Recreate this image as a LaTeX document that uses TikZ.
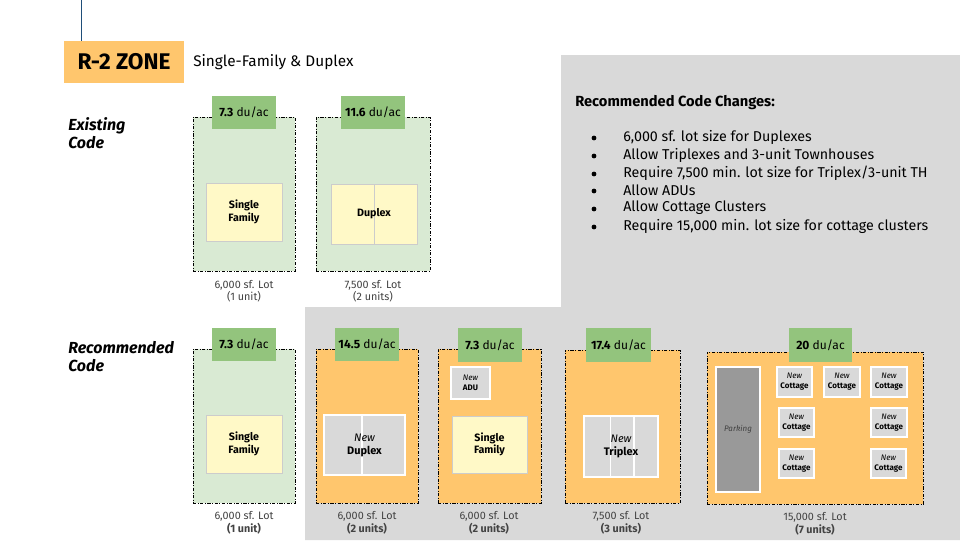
\documentclass[tikz,border=0pt]{standalone}
\usepackage{fontspec}
\setmainfont{Fira Sans}
\usetikzlibrary{calc}
\definecolor{bggray}{HTML}{D9D9D9}
\definecolor{zoneor}{HTML}{FFC66D}
\definecolor{lotor}{HTML}{FFC66D}
\definecolor{lgreen}{HTML}{D9EAD3}
\definecolor{dgreen}{HTML}{93C47D}
\definecolor{lyellow}{HTML}{FFF9C7}
\definecolor{bldgray}{HTML}{D9D9D9}
\definecolor{parkgray}{HTML}{999999}
\definecolor{capgray}{HTML}{434343}
\definecolor{lineblue}{HTML}{1F4E79}
\newcommand{\fs}[2]{\fontsize{#1}{#2}\selectfont}
\begin{document}
\begin{tikzpicture}[x=0.75pt,y=-0.75pt,
  sz/.style 2 args={minimum width=#1*0.75pt, minimum height=#2*0.75pt, inner sep=0pt, outer sep=0pt, anchor=north west},
  lotline/.style={draw=black, line width=0.6pt, dash pattern=on 2.4pt off 1.2pt on 0.6pt off 1.2pt},
  lotG/.style={lotline, fill=lgreen},
  lotO/.style={lotline, fill=lotor},
  dens/.style={fill=dgreen, font=\fs{9}{11}, text=black},
  sfam/.style={fill=lyellow, draw=black!20, line width=0.6pt, font=\bfseries\fs{8}{9.3}, align=center},
  newb/.style={fill=bldgray, draw=white, line width=1pt, align=center},
  cott/.style={newb, font=\fs{6}{7.4}},
  lotcap/.style={font=\fs{8.1}{9.4}, text=capgray, align=center},
  side/.style={font=\bfseries\itshape\fs{12}{13.6}, align=left, anchor=north west, inner sep=0pt},
  bl/.style={font=\fs{10.7}{12}, anchor=west, inner sep=0pt},
  bulc/.style={circle, fill=black, inner sep=0pt, minimum size=3.6pt},
]
\useasboundingbox (0,0) rectangle (960,540);
\fill[white] (0,0) rectangle (960,540);
% gray background
\fill[bggray] (561,55) -- (960,55) -- (960,540) -- (305,540) -- (305,307) -- (561,307) -- cycle;
% title
\node[sz={120}{42}, fill=zoneor, font=\bfseries\fs{17}{18}] (zone) at (64,41) {R-2 ZONE};
\coordinate (ltop) at (81,0);
\coordinate (lbot) at (81,41);
\draw[lineblue, line width=0.7pt] (ltop) -- (lbot);
\node[anchor=west, inner sep=0pt, font=\fs{11.5}{12}] (subt) at (193,62) {Single-Family \& Duplex};
% side labels
\node[side] (exist) at (68,117) {Existing\\Code};
\node[side] (recom) at (68,341) {Recommended\\Code};

% ===== Existing row =====
\node[sz={102}{154}, lotG] (e1) at (193,117) {};
\node[sz={64}{33}, dens] (e1d) at (212,96) {\textbf{7.3} du/ac};
\node[sz={76}{58}, sfam] (e1b) at (206,183) {Single\\Family};
\node[lotcap] (e1c) at (244,291) {6,000 sf. Lot\\(1 unit)};

\node[sz={114}{154}, lotG] (e2) at (316,117) {};
\node[sz={64}{33}, dens] (e2d) at (341,96) {\textbf{11.6} du/ac};
\node[sz={86}{60}, sfam] (e2b) at (331,184) {};
\draw[black!20, line width=0.6pt] ($(e2b.north west)!0.5!(e2b.north east)$) coordinate (e2t) -- ($(e2b.south west)!0.5!(e2b.south east)$) coordinate (e2s);
\node[sfam, fill=none, draw=none] (e2txt) at (e2b.center) {Duplex};
\node[lotcap] (e2c) at (373,291) {7,500 sf. Lot\\(2 units)};

% ===== Recommended row =====
\node[sz={102}{154}, lotG] (r1) at (193,349) {};
\node[sz={64}{33}, dens] (r1d) at (212,328) {\textbf{7.3} du/ac};
\node[sz={76}{58}, sfam] (r1b) at (206,415) {Single\\Family};
\node[lotcap] (r1c) at (244,523) {6,000 sf. Lot\\\textbf{(1 unit)}};

\node[sz={102}{154}, lotO] (r2) at (316,349) {};
\node[sz={64}{33}, dens] (r2d) at (335,328) {\textbf{14.5} du/ac};
\node[sz={81}{60}, newb] (r2b) at (324,415) {};
\draw[white, line width=1pt] ($(r2b.north west)!0.47!(r2b.north east)$) coordinate (r2t) -- ($(r2b.south west)!0.47!(r2b.south east)$) coordinate (r2s);
\node[align=center, font=\fs{8.2}{9.8}, inner sep=0pt] (r2txt) at (r2b.center) {\itshape New\\\bfseries Duplex};
\node[lotcap] (r2c) at (367,523) {6,000 sf. Lot\\\textbf{(2 units)}};

\node[sz={103}{154}, lotO] (r3) at (438,349) {};
\node[sz={64}{34}, dens] (r3d) at (458,328) {\textbf{7.3} du/ac};
\node[sz={39}{32}, newb, font=\fs{6}{7.4}] (r3a) at (451,367) {\itshape New\\\bfseries ADU};
\node[sz={75}{57}, sfam] (r3b) at (452,416) {Single\\Family};
\node[lotcap] (r3c) at (489,523) {6,000 sf. Lot\\\textbf{(2 units)}};

\node[sz={115}{153}, lotO] (r4) at (565,350) {};
\node[sz={65}{34}, dens] (r4d) at (586,328) {\textbf{17.4} du/ac};
\node[sz={74}{61}, newb] (r4b) at (584,416) {};
\draw[white, line width=1pt] ($(r4b.north west)!0.355!(r4b.north east)$) coordinate (r4t1) -- ($(r4b.south west)!0.355!(r4b.south east)$) coordinate (r4s1);
\draw[white, line width=1pt] ($(r4b.north west)!0.675!(r4b.north east)$) coordinate (r4t2) -- ($(r4b.south west)!0.675!(r4b.south east)$) coordinate (r4s2);
\node[align=center, font=\fs{8.2}{9.8}, inner sep=0pt] (r4txt) at (r4b.center) {\itshape New\\\bfseries Triplex};
\node[lotcap] (r4c) at (621,523) {7,500 sf. Lot\\\textbf{(3 units)}};

\node[sz={216}{152}, lotO] (r5) at (707,352) {};
\node[sz={63}{34}, dens] (r5d) at (789,328) {\textbf{20} du/ac};
\node[sz={44}{125}, fill=parkgray, draw=white, line width=1pt, font=\itshape\fs{6}{7}, text=black!75] (park) at (716,367) {Parking};
\node[sz={35}{30}, cott] (c1) at (777,367) {\itshape New\\\bfseries Cottage};
\node[sz={36}{30}, cott] (c2) at (824,367) {\itshape New\\\bfseries Cottage};
\node[sz={36}{30}, cott] (c3) at (871,367) {\itshape New\\\bfseries Cottage};
\node[sz={35}{29}, cott] (c4) at (779,408) {\itshape New\\\bfseries Cottage};
\node[sz={36}{29}, cott] (c5) at (871,408) {\itshape New\\\bfseries Cottage};
\node[sz={35}{29}, cott] (c6) at (779,449) {\itshape New\\\bfseries Cottage};
\node[sz={35}{29}, cott] (c7) at (871,449) {\itshape New\\\bfseries Cottage};
\node[lotcap] (r5c) at (815,524) {15,000 sf. Lot\\\textbf{(7 units)}};

% ===== Recommended changes =====
\node[anchor=west, inner sep=0pt, font=\bfseries\fs{11}{12}] (rtitle) at (575,103) {Recommended Code Changes:};
\node[bulc] (b1) at (594,138) {};
\node[bl] (t1) at (623,137) {6,000 sf. lot size for Duplexes};
\node[bulc] (b2) at (594,156) {};
\node[bl] (t2) at (623,155) {Allow Triplexes and 3-unit Townhouses};
\node[bulc] (b3) at (594,174) {};
\node[bl] (t3) at (623,173) {Require 7,500 min. lot size for Triplex/3-unit TH};
\node[bulc] (b4) at (594,191) {};
\node[bl] (t4) at (623,190) {Allow ADUs};
\node[bulc] (b5) at (594,209) {};
\node[bl] (t5) at (623,208) {Allow Cottage Clusters};
\node[bulc] (b6) at (594,227) {};
\node[bl] (t6) at (623,226) {Require 15,000 min. lot size for cottage clusters};
\end{tikzpicture}
\end{document}
